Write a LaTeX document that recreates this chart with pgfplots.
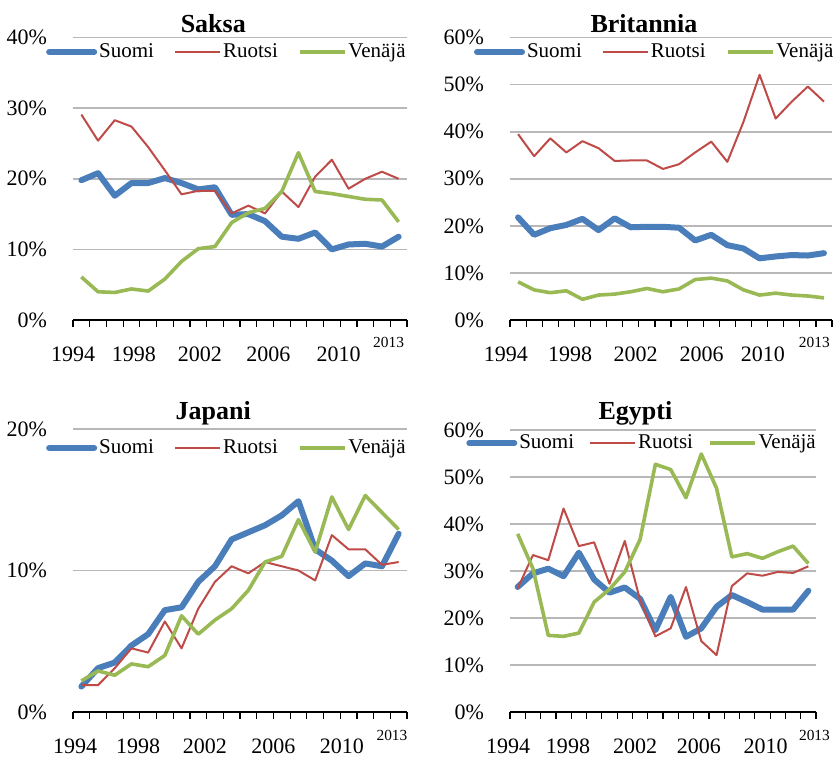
\documentclass[border=0pt]{standalone}
\usepackage{fontspec}
\setmainfont{Liberation Serif}
\usepackage{pgfplots}
\pgfplotsset{compat=1.18}
\definecolor{cS}{HTML}{4A7EBB}
\definecolor{cR}{HTML}{BE4B48}
\definecolor{cV}{HTML}{98B954}
\newcommand{\yr}[3]{\node[font=\fontsize{11}{11}\selectfont, anchor=base, yshift=#1] at (axis cs:#2,0) {#3};}
\newcommand{\ysm}[2]{\node[font=\fontsize{7.7}{8}\selectfont, anchor=base, yshift=#1] at (axis cs:#2,0) {2013};}
\newcommand{\ttl}[3]{\node[font=\bfseries\fontsize{13}{13}\selectfont, anchor=center] at (axis description cs:#1,#2) {#3};}
\pgfplotsset{
 panel/.style={
  scale only axis, xmin=-0.5, xmax=19.5, clip=false,
  axis x line*=bottom, axis y line*=left,
  y axis line style={draw=none},
  x axis line style={black, line width=1.3pt},
  ymajorgrids, grid style={draw=black!28, line width=0.8pt},
  ytick style={draw=none},
  xtick={0,5,10,15}, xticklabels={},
  minor xtick={-0.5,0.5,...,19.5},
  minor tick length=3.5pt, major tick length=0pt,
  tick align=outside,
  minor tick style={black, line width=0.6pt},
  yticklabel style={font=\fontsize{11}{11}\selectfont, xshift=-9.5pt},
  legend columns=3,
  legend style={draw=none, fill=none, inner sep=0pt, anchor=east,
     font=\fontsize{10.5}{11}\selectfont, nodes={inner sep=1pt}},
  legend image code/.code={\draw[##1] (0pt,0pt) -- (22.5pt,0pt);},
 },
 sS/.style={cS, line width=3pt, line cap=round, line join=round},
 sR/.style={cR, line width=1pt, line join=round},
 sV/.style={cV, line width=1.8pt, line join=round},
}
\begin{document}
\begin{tikzpicture}
\useasboundingbox (0,0) rectangle (419pt,378pt);
% Saksa
\begin{axis}[panel, at={(36.5pt,218pt)}, anchor=south west, width=167pt, height=141.2pt,
  ymin=0, ymax=40, ytick={0,10,20,30,40}, yticklabels={0\%,10\%,20\%,30\%,40\%},
  legend style={at={(axis description cs:1.003,0.949)}}]
\addplot[sS] coordinates {(0,19.8)(1,20.8)(2,17.6)(3,19.4)(4,19.4)(5,20.1)(6,19.4)(7,18.5)(8,18.8)(9,14.9)(10,15.0)(11,14.0)(12,11.8)(13,11.5)(14,12.4)(15,10.0)(16,10.7)(17,10.8)(18,10.4)(19,11.8)};
\addplot[sR] coordinates {(0,29.1)(1,25.4)(2,28.3)(3,27.4)(4,24.5)(5,21.2)(6,17.8)(7,18.3)(8,18.3)(9,15.1)(10,16.2)(11,15.1)(12,18.2)(13,16.0)(14,20.3)(15,22.7)(16,18.6)(17,20.0)(18,21.0)(19,20.0)};
\addplot[sV] coordinates {(0,6.1)(1,4.0)(2,3.9)(3,4.4)(4,4.1)(5,5.8)(6,8.3)(7,10.1)(8,10.4)(9,13.8)(10,15.2)(11,15.8)(12,18.2)(13,23.7)(14,18.2)(15,17.9)(16,17.5)(17,17.1)(18,17.0)(19,13.9)};
\legend{Suomi\kern9pt,Ruotsi\kern9pt,Venäjä}
\yr{-20.5pt}{-0.5}{1994}\yr{-20.5pt}{3.15}{1998}\yr{-20.5pt}{7.1}{2002}\yr{-20.5pt}{11.2}{2006}\yr{-20.5pt}{15.4}{2010}
\ysm{-13.5pt}{18.4}
\ttl{0.42}{1.048}{Saksa}
\end{axis}
% Britannia
\begin{axis}[panel, at={(255pt,218pt)}, anchor=south west, width=161pt, height=141.2pt,
  ymin=0, ymax=60, ytick={0,10,20,30,40,50,60}, yticklabels={0\%,10\%,20\%,30\%,40\%,50\%,60\%},
  legend style={at={(axis description cs:1.012,0.949)}}]
\addplot[sS] coordinates {(0,21.8)(1,18.1)(2,19.5)(3,20.2)(4,21.5)(5,19.1)(6,21.6)(7,19.7)(8,19.8)(9,19.8)(10,19.6)(11,16.9)(12,18.1)(13,15.9)(14,15.2)(15,13.1)(16,13.5)(17,13.8)(18,13.7)(19,14.2)};
\addplot[sR] coordinates {(0,39.5)(1,34.8)(2,38.6)(3,35.6)(4,38.0)(5,36.5)(6,33.8)(7,33.9)(8,33.9)(9,32.1)(10,33.1)(11,35.6)(12,37.9)(13,33.6)(14,42.1)(15,52.1)(16,42.8)(17,46.4)(18,49.6)(19,46.4)};
\addplot[sV] coordinates {(0,8.1)(1,6.4)(2,5.8)(3,6.2)(4,4.4)(5,5.3)(6,5.5)(7,6.0)(8,6.7)(9,6.0)(10,6.6)(11,8.6)(12,8.9)(13,8.3)(14,6.4)(15,5.3)(16,5.7)(17,5.3)(18,5.1)(19,4.7)};
\legend{Suomi\kern9pt,Ruotsi\kern9pt,Venäjä}
\yr{-20.5pt}{-0.75}{1994}\yr{-20.5pt}{3.23}{1998}\yr{-20.5pt}{7.3}{2002}\yr{-20.5pt}{11.4}{2006}\yr{-20.5pt}{15.2}{2010}
\ysm{-13.5pt}{18.4}
\ttl{0.416}{1.048}{Britannia}
\end{axis}
% Japani
\begin{axis}[panel, at={(36.5pt,22pt)}, anchor=south west, width=167pt, height=141.5pt,
  ymin=0, ymax=20, ytick={0,10,20}, yticklabels={0\%,10\%,20\%},
  legend style={at={(axis description cs:1.003,0.933)}}]
\addplot[sS] coordinates {(0,1.8)(1,3.1)(2,3.5)(3,4.7)(4,5.5)(5,7.2)(6,7.4)(7,9.2)(8,10.3)(9,12.2)(10,12.7)(11,13.2)(12,13.9)(13,14.9)(14,11.5)(15,10.7)(16,9.6)(17,10.5)(18,10.3)(19,12.6)};
\addplot[sR] coordinates {(0,1.9)(1,1.9)(2,3.1)(3,4.5)(4,4.2)(5,6.4)(6,4.5)(7,7.3)(8,9.2)(9,10.3)(10,9.8)(11,10.6)(12,10.3)(13,10.0)(14,9.3)(15,12.5)(16,11.5)(17,11.5)(18,10.4)(19,10.6)};
\addplot[sV] coordinates {(0,2.2)(1,2.9)(2,2.6)(3,3.4)(4,3.2)(5,4.0)(6,6.8)(7,5.5)(8,6.5)(9,7.3)(10,8.6)(11,10.6)(12,11.0)(13,13.6)(14,11.3)(15,15.2)(16,12.9)(17,15.3)(18,14.1)(19,12.9)};
\legend{Suomi\kern9pt,Ruotsi\kern9pt,Venäjä}
\yr{-20.5pt}{-0.38}{1994}\yr{-20.5pt}{3.4}{1998}\yr{-20.5pt}{7.4}{2002}\yr{-20.5pt}{11.5}{2006}\yr{-20.5pt}{15.6}{2010}
\ysm{-14pt}{18.6}
\ttl{0.42}{1.057}{Japani}
\end{axis}
% Egypti
\begin{axis}[panel, at={(255pt,22pt)}, anchor=south west, width=153pt, height=141pt,
  ymin=0, ymax=60, ytick={0,10,20,30,40,50,60}, yticklabels={0\%,10\%,20\%,30\%,40\%,50\%,60\%},
  legend style={at={(axis description cs:1.007,0.954)}}]
\addplot[sS] coordinates {(0,26.6)(1,29.5)(2,30.5)(3,28.9)(4,33.9)(5,28.2)(6,25.4)(7,26.5)(8,24.1)(9,17.4)(10,24.5)(11,16.0)(12,17.8)(13,22.4)(14,24.9)(15,23.4)(16,21.8)(17,21.8)(18,21.8)(19,25.8)};
\addplot[sR] coordinates {(0,26.3)(1,33.4)(2,32.3)(3,43.3)(4,35.3)(5,36.1)(6,27.3)(7,36.4)(8,23.8)(9,16.1)(10,17.8)(11,26.6)(12,15.1)(13,12.1)(14,26.8)(15,29.5)(16,29.0)(17,29.8)(18,29.6)(19,31.0)};
\addplot[sV] coordinates {(0,37.9)(1,30.5)(2,16.3)(3,16.1)(4,16.8)(5,23.4)(6,26.1)(7,29.8)(8,36.7)(9,52.7)(10,51.6)(11,45.6)(12,54.9)(13,47.6)(14,33.0)(15,33.7)(16,32.7)(17,34.1)(18,35.3)(19,31.6)};
\legend{Suomi\kern6.5pt,Ruotsi\kern6.5pt,Venäjä}
\yr{-20.5pt}{-0.63}{1994}\yr{-20.5pt}{3.29}{1998}\yr{-20.5pt}{7.67}{2002}\yr{-20.5pt}{11.85}{2006}\yr{-20.5pt}{16.2}{2010}
\ysm{-14pt}{19.4}
\ttl{0.41}{1.06}{Egypti}
\end{axis}
\end{tikzpicture}
\end{document}
